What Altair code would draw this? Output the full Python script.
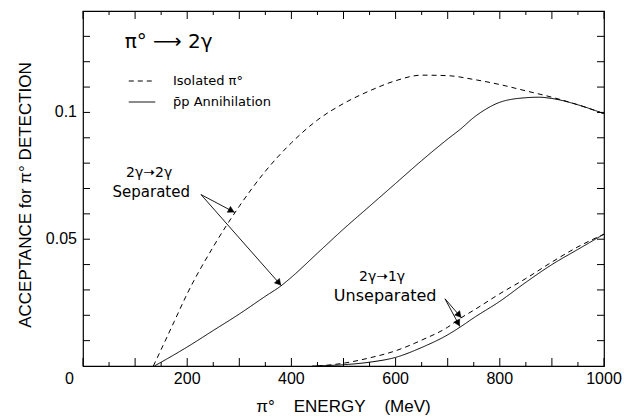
import math
import altair as alt
import pandas as pd

# ---- data ----
E_sep_iso = [135, 150, 175, 200, 250, 300, 350, 400, 450, 500, 550, 600, 650, 700, 750, 800, 850, 900, 950, 1000]
A_sep_iso = [0.0, 0.0065, 0.0175, 0.0285, 0.047, 0.063, 0.0768, 0.088, 0.097, 0.1035, 0.1085, 0.1125, 0.1147, 0.1145, 0.113, 0.111, 0.1085, 0.106, 0.103, 0.0995]

E_sep_pp = [137, 150, 200, 250, 300, 350, 380, 400, 450, 500, 550, 600, 650, 700, 725, 750, 775, 800, 850, 875, 900, 950, 1000]
A_sep_pp = [0.0, 0.0015, 0.0075, 0.014, 0.0205, 0.0275, 0.0316, 0.035, 0.0445, 0.054, 0.063, 0.072, 0.081, 0.0895, 0.0935, 0.098, 0.1015, 0.104, 0.1058, 0.106, 0.1055, 0.103, 0.0995]

E_uns_iso = [450, 500, 550, 600, 650, 700, 725, 750, 800, 850, 900, 950, 1000]
A_uns_iso = [0.0, 0.0011, 0.0032, 0.006, 0.0102, 0.0153, 0.0189, 0.022, 0.0285, 0.0345, 0.041, 0.047, 0.052]

E_uns_pp = [440, 500, 550, 600, 650, 700, 725, 750, 800, 850, 900, 950, 1000]
A_uns_pp = [0.0, 0.0005, 0.0015, 0.0034, 0.0073, 0.0123, 0.0155, 0.019, 0.0255, 0.033, 0.040, 0.046, 0.052]

ISO = "Isolated π°"
PP = "p\u0304p Annihilation"

x_labels = [0, 200, 400, 600, 800, 1000]
x_major = [0, 100, 200, 300, 400, 500, 600, 700, 800, 900, 1000]
x_minor = [50, 150, 250, 350, 450, 550, 650, 750, 850, 950]
y_labels = [0.05, 0.1]
y_label_text = ["0.05", "0.1"]
y_ticks = [0.01, 0.02, 0.03, 0.04, 0.05, 0.06, 0.07, 0.08, 0.09, 0.10, 0.11, 0.12, 0.13]

NB = "\u00a0"
x_title = "π°" + NB * 4 + "ENERGY" + NB * 4 + "(MeV)"
y_title = "ACCEPTANCE for π° DETECTION"

# title annotation (left aligned)
head_text = ["π° ⟶ 2γ"]
head_x = [80]
head_y = [0.1277]

# curve annotations (centred)
ann_text = ["2γ➝2γ", "Separated", "2γ➝1γ", "Unseparated"]
ann_x = [127, 131, 574, 580]
ann_y = [0.0762, 0.0688, 0.0352, 0.0277]
ann_size = [14, 15, 14, 16]

# arrows: start -> tip
arr_x = [226.5, 226.5, 694.8, 694.8]
arr_y = [0.0676, 0.0676, 0.0265, 0.0265]
arr_x2 = [291.7, 381.0, 726.8, 723.6]
arr_y2 = [0.0605, 0.0316, 0.0189, 0.0155]

W, H = 521, 355
XMAX, YMAX = 1000, 0.14

rows = []
for nm, es, acs, sty in [("sep_iso", E_sep_iso, A_sep_iso, ISO), ("sep_pp", E_sep_pp, A_sep_pp, PP),
                         ("uns_iso", E_uns_iso, A_uns_iso, ISO), ("uns_pp", E_uns_pp, A_uns_pp, PP)]:
    for e, a in zip(es, acs):
        rows.append({"energy": e, "acc": a, "curve": nm, "style": sty})
df = pd.DataFrame(rows)

# arrowhead orientation (and centre pulled back a little from the tip)
ang, hx, hy = [], [], []
for x1, y1, x2, y2 in zip(arr_x, arr_y, arr_x2, arr_y2):
    dx = (x2 - x1) * W / XMAX
    dy = -(y2 - y1) * H / YMAX
    L = math.hypot(dx, dy)
    ang.append(math.degrees(math.atan2(dy, dx)) + 90)
    back = 4
    hx.append(x2 - dx / L * back * XMAX / W)
    hy.append(y2 + dy / L * back * YMAX / H)
arr_df = pd.DataFrame({"x": arr_x, "y": arr_y, "x2": arr_x2, "y2": arr_y2, "ang": ang, "hx": hx, "hy": hy})
txt_df = pd.DataFrame({"x": ann_x, "y": ann_y, "t": ann_text, "s": ann_size})
head_df = pd.DataFrame({"x": head_x, "y": head_y, "t": head_text})

# inward tick segments on all four sides, built from the tick arrays
px_x = XMAX / W   # data units per pixel, horizontal
px_y = YMAX / H   # data units per pixel, vertical
tk = []
for v in x_major:
    tk.append((v, 0, v, 8 * px_y))
    tk.append((v, YMAX, v, YMAX - 8 * px_y))
for v in x_minor:
    tk.append((v, 0, v, 4 * px_y))
    tk.append((v, YMAX, v, YMAX - 4 * px_y))
for v in y_ticks:
    tk.append((0, v, 7 * px_x, v))
    tk.append((XMAX, v, XMAX - 7 * px_x, v))
tick_df = pd.DataFrame(tk, columns=["x", "y", "x2", "y2"])

FONT = "Liberation Sans"
FONT2 = "DejaVu Sans"

xs = alt.Scale(domain=[0, XMAX], nice=False, zero=False)
ys = alt.Scale(domain=[0, YMAX], nice=False, zero=False)

dash_scale = alt.Scale(domain=[ISO, PP], range=[[5, 4], [1, 0]])

lines = alt.Chart(df).mark_line(color="black", strokeWidth=1, interpolate="monotone").encode(
    x=alt.X("energy:Q", scale=xs, axis=None),
    y=alt.Y("acc:Q", scale=ys, axis=None),
    detail="curve:N",
    strokeDash=alt.StrokeDash("style:N", scale=dash_scale, legend=alt.Legend(
        title=None, orient="none", legendX=45, legendY=56, symbolType="stroke", symbolSize=700,
        symbolStrokeColor="black", symbolStrokeWidth=1, labelFont=FONT2, labelFontSize=13,
        labelColor="black", labelOffset=17, rowPadding=-10)),
)

ticks = alt.Chart(tick_df).mark_rule(color="black", strokeWidth=1).encode(
    x=alt.X("x:Q", scale=xs, axis=None),
    y=alt.Y("y:Q", scale=ys, axis=None),
    x2="x2:Q", y2="y2:Q",
)

# tick labels (drawn from the label arrays through the scales)
xl_df = pd.DataFrame({"v": [v for v in x_labels if v != 0], "t": [str(v) for v in x_labels if v != 0]})
x0_df = pd.DataFrame({"v": [v for v in x_labels if v == 0], "t": [str(v) for v in x_labels if v == 0]})
yl_df = pd.DataFrame({"v": y_labels, "t": y_label_text})

xlab = alt.Chart(xl_df).mark_text(font=FONT, fontSize=16, color="black", baseline="middle", align="center").encode(
    x=alt.X("v:Q", scale=xs, axis=None), y=alt.value(H + 13), text="t:N")
x0lab = alt.Chart(x0_df).mark_text(font=FONT, fontSize=16, color="black", baseline="middle", align="right", dx=-9).encode(
    x=alt.X("v:Q", scale=xs, axis=None), y=alt.value(H + 13), text="t:N")
ylab = alt.Chart(yl_df).mark_text(font=FONT, fontSize=16, color="black", baseline="middle", align="right").encode(
    y=alt.Y("v:Q", scale=ys, axis=None), x=alt.value(-6), text="t:N")

xtitle = alt.Chart(pd.DataFrame({"t": [x_title]})).mark_text(
    font=FONT, fontSize=17, color="black", baseline="middle", align="center").encode(
    x=alt.value(W / 2), y=alt.value(H + 41), text="t:N")
ytitle = alt.Chart(pd.DataFrame({"t": [y_title]})).mark_text(
    font=FONT, fontSize=17, color="black", baseline="middle", align="center", angle=270).encode(
    x=alt.value(-57), y=alt.value(184), text="t:N")

arrows = alt.Chart(arr_df).mark_rule(color="black", strokeWidth=0.9).encode(
    x=alt.X("x:Q", scale=xs, axis=None),
    y=alt.Y("y:Q", scale=ys, axis=None),
    x2="x2:Q", y2="y2:Q",
)

heads = alt.Chart(arr_df).mark_point(
    shape="triangle-up", filled=True, fill="black", stroke="black", strokeWidth=0.5,
    opacity=1, size=45
).encode(
    x=alt.X("hx:Q", scale=xs, axis=None),
    y=alt.Y("hy:Q", scale=ys, axis=None),
    angle=alt.Angle("ang:Q", scale=None),
)

texts = alt.Chart(txt_df).mark_text(font=FONT2, color="black", baseline="middle", align="center").encode(
    x=alt.X("x:Q", scale=xs, axis=None),
    y=alt.Y("y:Q", scale=ys, axis=None),
    text="t:N",
    size=alt.Size("s:Q", scale=None),
)

head = alt.Chart(head_df).mark_text(font=FONT2, color="black", baseline="middle", align="left", fontSize=20).encode(
    x=alt.X("x:Q", scale=xs, axis=None),
    y=alt.Y("y:Q", scale=ys, axis=None),
    text="t:N",
)

chart = alt.layer(lines, ticks, xlab, x0lab, ylab, xtitle, ytitle, arrows, heads, texts, head).properties(
    width=W, height=H,
    autosize=alt.AutoSizeParams(type="none"),
    padding={"left": 83, "top": 11, "right": 20, "bottom": 52},
    background="white",
).configure_view(stroke="black", strokeWidth=1.2)

chart.save("out.html", embed_options={"renderer": "svg", "actions": False})
